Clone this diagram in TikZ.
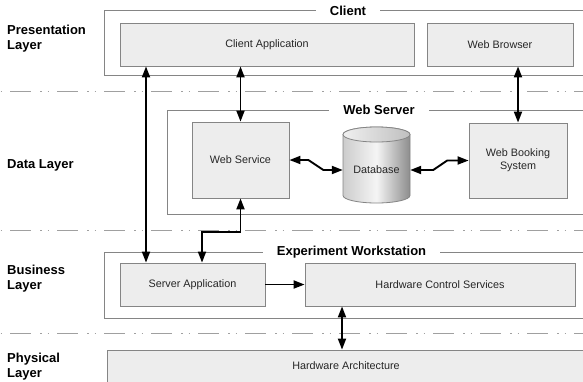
\documentclass[tikz,border=0pt]{standalone}
\usepackage{fontspec}
\setmainfont{Liberation Sans}
\usetikzlibrary{arrows.meta}
\definecolor{boxfill}{HTML}{EDEDED}
\definecolor{boxline}{HTML}{858585}
\definecolor{dashline}{HTML}{A0A0A0}
\begin{document}
\begin{tikzpicture}[x=1pt,y=-1pt,
  comp/.style={draw=boxline, fill=boxfill, line width=0.8pt, font=\fontsize{10.8}{13}\selectfont, text=black!85, align=center, inner sep=0pt},
  frame/.style={draw=boxline, line width=0.8pt},
  ftitle/.style={fill=white, font=\fontsize{13}{15}\selectfont\bfseries, inner xsep=14pt, inner ysep=1pt},
  layer/.style={anchor=west, align=left, font=\fontsize{13}{15}\selectfont\bfseries, inner sep=0pt},
  sep/.style={draw=dashline, line width=1pt, dash pattern=on 21pt off 9pt on 1.5pt off 6pt on 1.5pt off 8pt, dash phase=37pt},
  dbl/.style={line width=1.9pt, {Triangle[length=11pt,width=8pt]}-{Triangle[length=11pt,width=8pt]}},
  sgl/.style={line width=1.9pt, -{Triangle[length=11pt,width=8pt]}}
]
\useasboundingbox (0,0) rectangle (583,381);
\clip (0,0) rectangle (583,381);

% separators
\draw[sep] (0,91) -- (583,91);
\draw[sep] (0,230) -- (583,230);
\draw[sep] (0,333) -- (583,333);

% frames
\draw[frame] (104,10.5) rectangle (590,75.5);
\draw[frame] (167,110) rectangle (590,214);
\draw[frame] (104,252) rectangle (590,318);
\node[ftitle] (tclient) at (348,10.5) {Client};
\node[ftitle] (twebserver) at (379,110) {Web Server};
\node[ftitle] (texpws) at (351.5,252) {Experiment Workstation};

% layer labels
\node[layer] (lpres) at (7,39) {Presentation\\Layer};
\node[layer] (ldata) at (7,165) {Data Layer};
\node[layer] (lbus) at (7,279) {Business\\Layer};
\node[layer] (lphys) at (7,367) {Physical\\Layer};

% components
\node[comp, minimum width=294pt, minimum height=42.5pt] (ca) at (267,44.75) {Client Application};
\node[comp, minimum width=146pt, minimum height=42.5pt] (wb) at (500,44.75) {Web Browser};
\node[comp, minimum width=97pt, minimum height=76pt] (ws) at (240.5,160) {Web Service};
\node[comp, minimum width=98pt, minimum height=75pt] (wbs) at (518,160.5) {Web Booking\\System};
\node[comp, minimum width=145pt, minimum height=43pt] (sa) at (192.5,284.5) {Server Application};
\node[comp, minimum width=270pt, minimum height=43pt] (hcs) at (440,284.5) {Hardware Control Services};
\node[comp, minimum width=478pt, minimum height=32pt] (hwa) at (346,366) {Hardware Architecture};

% database cylinder
\path[draw=boxline, line width=0.8pt, left color=black!20, right color=black!45, middle color=black!4]
  (343,134.5) -- (343,195.5) arc[start angle=180, end angle=360, x radius=33.5pt, y radius=7.5pt]
  -- (410,134.5) arc[start angle=0, end angle=180, x radius=33.5pt, y radius=7.5pt] -- cycle;
\path[draw=boxline, line width=0.8pt, left color=black!6, right color=black!25]
  (376.5,134.5) ellipse [x radius=33.5pt, y radius=7.5pt];
\node[inner sep=0pt, minimum width=67pt, minimum height=66pt, font=\fontsize{10.8}{13}\selectfont, text=black!85] (db) at (376.5,170) {Database};

% connectors
\coordinate (xl) at (146,0);
\coordinate (xh) at (342,0);
\draw[dbl] (ca.south -| xl) -- (sa.north -| xl);
\draw[dbl] (ca.south -| ws.north) -- (ws.north);
\draw[dbl] (wb.south -| wbs.north) -- (wbs.north);
\draw[dbl] (ws.south) -- ++(0,34) -| ([xshift=9.5pt]sa.north);
\draw[dbl] (ws.east) -- ++(19,0) -- ++(15,10) -- (db.west);
\draw[dbl] (db.east) -- ++(23,0) -- ++(14,-9.5) -- (wbs.west);
\draw[sgl] (sa.east) -- (hcs.west);
\draw[dbl] (hcs.south -| xh) -- (hwa.north -| xh);
\end{tikzpicture}
\end{document}
